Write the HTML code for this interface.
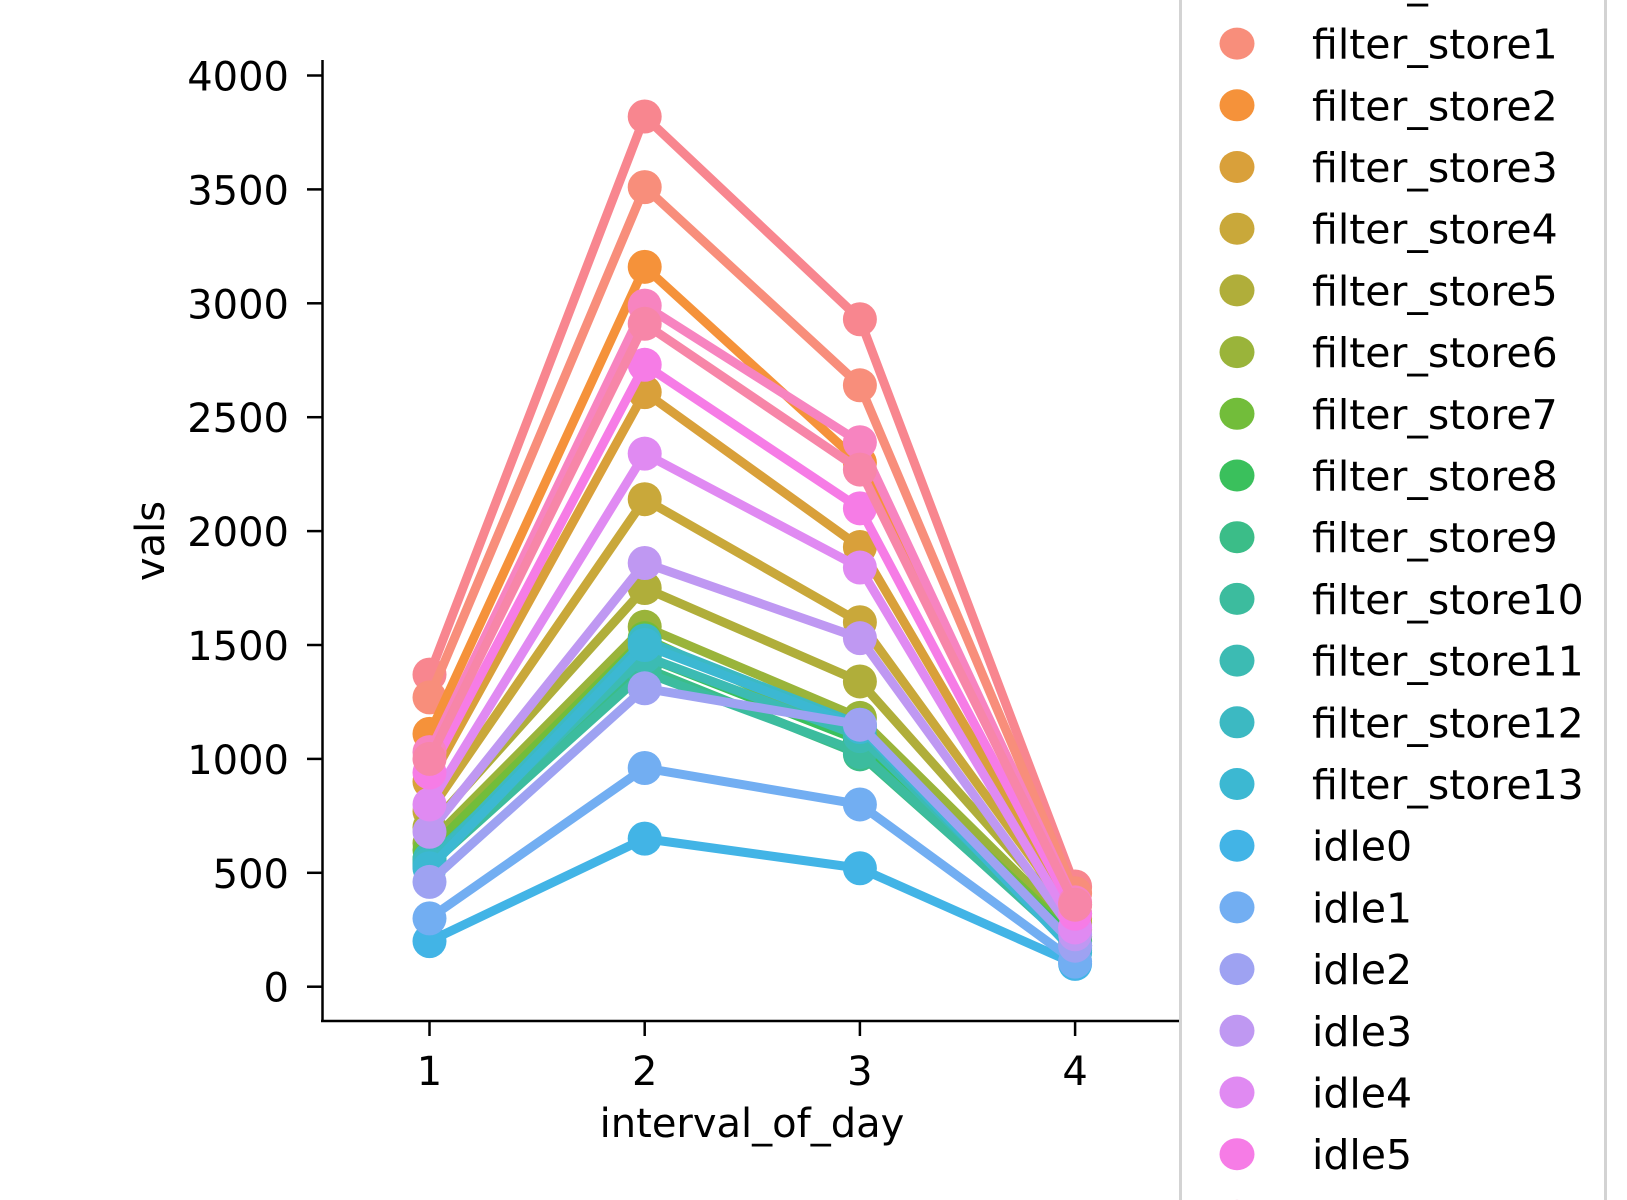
<!DOCTYPE html>
<html><head><meta charset="utf-8"><style>
html,body{margin:0;padding:0;background:#fff;}
svg{display:block;font-family:"DejaVu Sans","Liberation Sans",sans-serif;}
</style></head><body>
<svg id="chart" width="1627" height="1200" viewBox="0 0 1627 1200" xmlns="http://www.w3.org/2000/svg">
<g id="plot"></g>
<g id="axes"></g>
<g id="legend"></g>
</svg>
<script>
const categories = [1, 2, 3, 4];
const seriesNames = ["filter_store0","filter_store1","filter_store2","filter_store3","filter_store4","filter_store5","filter_store6","filter_store7","filter_store8","filter_store9","filter_store10","filter_store11","filter_store12","filter_store13","idle0","idle1","idle2","idle3","idle4","idle5","idle6","idle7"];
const seriesColors = ["#f8868f","#f88e7b","#f5923a","#d9a03a","#c9a83a","#b0ae3a","#9ab43a","#72bd3a","#3ac05c","#3bbd88","#3cbc9e","#3cbbb3","#3cb9c2","#3cb8d2","#42b4e6","#72aef2","#9ea2f2","#bf98f2","#e08af2","#f67ce6","#f784c0","#f786a8"];
const s_fs0 = [1370, 3820, 2930, 440];
const s_fs1 = [1270, 3510, 2640, 410];
const s_fs2 = [1110, 3160, 2300, 360];
const s_fs3 = [900, 2610, 1930, 320];
const s_fs4 = [770, 2140, 1600, 300];
const s_fs5 = [700, 1750, 1340, 280];
const s_fs6 = [630, 1580, 1180, 250];
const s_fs7 = [600, 1530, 1100, 220];
const s_fs8 = [560, 1450, 1080, 200];
const s_fs9 = [540, 1400, 1020, 180];
const s_fs10 = [530, 1380, 1030, 170];
const s_fs11 = [560, 1450, 1100, 180];
const s_fs12 = [540, 1520, 1150, 160];
const s_fs13 = [520, 1500, 1140, 150];
const s_idle0 = [200, 650, 520, 100];
const s_idle1 = [300, 960, 800, 110];
const s_idle2 = [460, 1310, 1150, 180];
const s_idle3 = [680, 1860, 1530, 230];
const s_idle4 = [800, 2340, 1840, 260];
const s_idle5 = [940, 2730, 2100, 320];
const s_idle6 = [1030, 2990, 2390, 370];
const s_idle7 = [1000, 2910, 2270, 360];
const seriesValues = [s_fs0,s_fs1,s_fs2,s_fs3,s_fs4,s_fs5,s_fs6,s_fs7,s_fs8,s_fs9,s_fs10,s_fs11,s_fs12,s_fs13,s_idle0,s_idle1,s_idle2,s_idle3,s_idle4,s_idle5,s_idle6,s_idle7];
const yTicks = [0, 500, 1000, 1500, 2000, 2500, 3000, 3500, 4000];

const NS = "http://www.w3.org/2000/svg";
function mk(parent, tag, attrs, text){
  const e = document.createElementNS(NS, tag);
  for (const k in attrs) e.setAttribute(k, attrs[k]);
  if (text !== undefined) e.textContent = text;
  parent.appendChild(e);
  return e;
}
const X0 = 429.5, DX = 215.2;
const Y0 = 986.7, PY = 113.9/500;
function xs(c){ return X0 + (c - 1) * DX; }
function ys(v){ return Y0 - v * PY; }

const plot = document.getElementById('plot');
seriesValues.forEach((vals, i) => {
  const g = mk(plot, 'g', {});
  
  
  const pts = vals.map((v, j) => xs(categories[j]) + ',' + ys(v)).join(' ');
  const line = mk(g, 'polyline', {points: pts, fill: 'none', stroke: seriesColors[i], 'stroke-width': 9, 'stroke-linejoin': 'round'});
  
  
  vals.forEach((v, j) => {
    const c = mk(g, 'circle', {cx: xs(categories[j]), cy: ys(v), r: 17, fill: seriesColors[i]});
    
    
  });
});

const axes = document.getElementById('axes');
const yl = mk(axes, 'line', {x1: 322.5, y1: 60, x2: 322.5, y2: 1021, stroke: '#000', 'stroke-width': 2.5});


const xl = mk(axes, 'line', {x1: 321, y1: 1021, x2: 1180, y2: 1021, stroke: '#000', 'stroke-width': 2.5});


yTicks.forEach(t => {
  mk(axes, 'line', {x1: 307, y1: ys(t), x2: 322, y2: ys(t), stroke: '#000', 'stroke-width': 2.5});
  const tx = mk(axes, 'text', {x: 289, y: ys(t) + 15, 'text-anchor': 'end', 'font-size': 40, fill: '#000'}, String(t));
  
  
});
categories.forEach(c => {
  mk(axes, 'line', {x1: xs(c), y1: 1021, x2: xs(c), y2: 1036, stroke: '#000', 'stroke-width': 2.5});
  const tx = mk(axes, 'text', {x: xs(c), y: 1085, 'text-anchor': 'middle', 'font-size': 40, fill: '#000'}, String(c));
  
  
});
const xt = mk(axes, 'text', {x: 752, y: 1137, 'text-anchor': 'middle', 'font-size': 40, fill: '#000'}, 'interval_of_day');


const yt = mk(axes, 'text', {x: 0, y: 0, 'text-anchor': 'middle', 'font-size': 40, fill: '#000', transform: 'translate(164,541) rotate(-90)'}, 'vals');



const legend = document.getElementById('legend');
mk(legend, 'rect', {x: 1180.5, y: -10, width: 425, height: 1230, fill: '#fff', stroke: '#d3d3d3', 'stroke-width': 3});
seriesNames.forEach((n, i) => {
  const y = 43.6 + (i - 1) * 61.7;
  if (y > 1240) return;
  const g = mk(legend, 'g', {});
  
  
  mk(g, 'ellipse', {cx: 1237, cy: y, rx: 17.5, ry: 16, fill: seriesColors[i]});
  mk(g, 'text', {x: 1312, y: y + 15, 'font-size': 41, fill: '#000'}, n);
});
</script>
</body></html>
